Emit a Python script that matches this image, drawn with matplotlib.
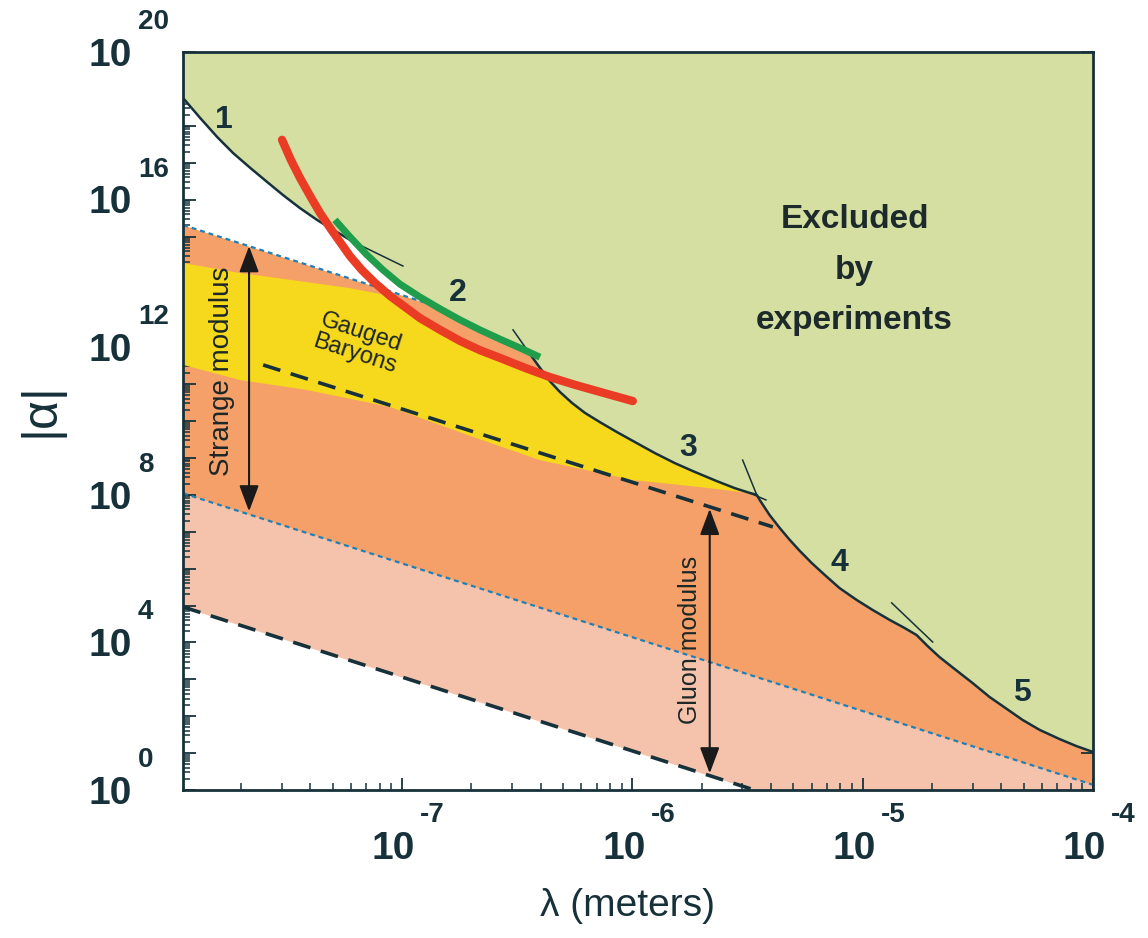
import numpy as np
import matplotlib.pyplot as plt
from matplotlib.ticker import FixedLocator, NullFormatter

plt.rcParams['font.family'] = ['Liberation Sans', 'DejaVu Sans']

# all values are log10(lambda / m) and log10(|alpha|)

# lower edge of the excluded region (curves 1 -> 5)
bound_loglam = [-7.950, -7.876, -7.803, -7.733, -7.659, -7.586, -7.516, -7.443, -7.369, -7.299, -7.226, -7.200,
                -7.152, -7.082, -7.009, -6.922, -6.835, -6.748, -6.662, -6.575, -6.488, -6.445,
                -6.401, -6.358, -6.315, -6.262, -6.206, -6.141, -6.067, -5.989, -5.902, -5.816, -5.729,
                -5.633, -5.555, -5.490, -5.460,
                -5.447, -5.404, -5.360, -5.317, -5.273, -5.221, -5.165, -5.100, -5.026, -4.957, -4.883,
                -4.818, -4.766,
                -4.718, -4.666, -4.601, -4.523, -4.449, -4.375, -4.306, -4.232, -4.145, -4.072, -4.0]
bound_logalpha = [18.75, 18.21, 17.70, 17.26, 16.86, 16.48, 16.12, 15.77, 15.45, 15.18, 14.91, 14.82,
                  14.50, 14.09, 13.71, 13.36, 13.04, 12.74, 12.47, 12.22, 11.98, 11.82,
                  11.44, 11.08, 10.79, 10.49, 10.22, 9.97, 9.70, 9.43, 9.13, 8.86, 8.62,
                  8.37, 8.18, 8.05, 8.00,
                  7.86, 7.45, 7.10, 6.78, 6.48, 6.15, 5.83, 5.47, 5.15, 4.88, 4.61,
                  4.39, 4.20,
                  3.90, 3.60, 3.28, 2.90, 2.52, 2.20, 1.90, 1.63, 1.38, 1.19, 1.03]

# short continuations of the curves past where they cross
cross_loglam = [(-7.200, -6.996), (-6.518, -6.445), (-5.521, -5.460), (-5.490, -5.42), (-4.874, -4.696)]
cross_logalpha = [(14.82, 14.20), (12.47, 11.82), (8.94, 8.00), (8.05, 7.86), (5.07, 4.01)]

red_loglam = [-7.521, -7.482, -7.443, -7.399, -7.356, -7.312, -7.269, -7.226, -7.174, -7.117, -7.052,
              -6.987, -6.922, -6.835, -6.748, -6.662, -6.575, -6.466, -6.358, -6.249, -6.141, -5.998]
red_logalpha = [17.62, 17.07, 16.59, 16.10, 15.64, 15.23, 14.85, 14.47, 14.09, 13.74, 13.39,
                13.09, 12.79, 12.47, 12.17, 11.92, 11.71, 11.44, 11.19, 10.98, 10.79, 10.54]

green_loglam = [-7.291, -7.226, -7.152, -7.082, -7.009, -6.922, -6.835, -6.748, -6.662, -6.575, -6.488, -6.401]
green_logalpha = [15.45, 14.99, 14.50, 14.09, 13.71, 13.36, 13.04, 12.74, 12.47, 12.22, 11.98, 11.73]

# gauged baryons band (top edge then bottom edge back)
yellow_loglam = [-7.950, -7.703, -7.443, -7.226, -7.052, -6.987, -6.922, -6.835, -6.748, -6.662, -6.575,
                 -6.466, -6.380, -6.358, -6.315, -6.262, -6.206, -6.141, -6.067, -5.989, -5.902, -5.816,
                 -5.729, -5.633, -5.555, -5.490,
                 -5.707, -5.998, -6.401, -6.692, -7.052, -7.412, -7.703, -7.950]
yellow_logalpha = [14.28, 14.01, 13.79, 13.60, 13.39, 13.09, 12.79, 12.47, 12.17, 11.92, 11.71,
                   11.44, 11.27, 11.08, 10.79, 10.49, 10.22, 9.97, 9.70, 9.43, 9.13, 8.86,
                   8.62, 8.37, 8.18, 8.05,
                   8.21, 8.40, 8.94, 9.57, 10.38, 10.84, 11.11, 11.52]

# straight bands (end points)
band_loglam = [-7.95, -4.0]
strange_top_logalpha = [15.31, 7.41]
strange_bot_logalpha = [8.04, 0.14]
gluon_bot_logalpha = [4.96, -2.94]
upper_blue_loglam = [-7.95, -6.55]
upper_blue_logalpha = [15.31, 12.51]
upper_dash_loglam = [-7.603, -5.39]
upper_dash_logalpha = [11.52, 7.13]

strange_arrow = (-7.664, 14.74, 7.55)
gluon_arrow = (-5.664, 7.62, 0.45)

curve_labels = ['1', '2', '3', '4', '5']
curve_label_loglam = [-7.772, -6.757, -5.759, -5.100, -4.310]
curve_label_logalpha = [18.16, 13.47, 9.27, 6.15, 2.63]

y_label_decades = [0, 4, 8, 12, 16, 20]
x_label_decades = [-7, -6, -5, -4]

INK = '#17313a'
TEXT = '#1c2727'


def p(values):
    return 10.0 ** np.asarray(values, dtype=float)


def draw_chart():
    fig = plt.figure(figsize=(11.48, 9.38), dpi=100)
    # axes box: 183..1093 px across, 52..790 px down
    ax = fig.add_axes([183 / 1148, 1 - 790 / 938, 910 / 1148, 738 / 938])
    ax.set_xscale('log')
    ax.set_yscale('log')

    # colored bands
    ax.fill_between(p(band_loglam), p(gluon_bot_logalpha), p(strange_bot_logalpha),
                    color='#f5c3ac', lw=0, zorder=1)
    ax.fill_between(p(band_loglam), p(strange_bot_logalpha), p(strange_top_logalpha),
                    color='#f4a068', lw=0, zorder=1)
    ax.fill(p(yellow_loglam), p(yellow_logalpha), color='#f6d81c', lw=0, zorder=2)

    blue = dict(color='#1f80b8', lw=1.6, ls=(0, (2.2, 1.8)), zorder=2.5)
    ax.plot(p(upper_blue_loglam), p(upper_blue_logalpha), **blue)
    ax.plot(p(band_loglam), p(strange_bot_logalpha), **blue)

    # excluded region
    ex_x = list(bound_loglam) + [-4.0, -7.95]
    ex_y = list(bound_logalpha) + [21, 21]
    ax.fill(p(ex_x), p(ex_y), color='#d4dfa1', lw=0, zorder=3)

    ax.plot(p(upper_dash_loglam), p(upper_dash_logalpha), color=INK, lw=2.6, ls=(0, (5, 3)), zorder=4)
    ax.plot(p(band_loglam), p(gluon_bot_logalpha), color=INK, lw=2.6, ls=(0, (5, 3)), zorder=4)

    ax.plot(p(bound_loglam), p(bound_logalpha), color=INK, lw=1.8, zorder=5)
    for xs, ys in zip(cross_loglam, cross_logalpha):
        ax.plot(p(xs), p(ys), color=INK, lw=1.1, zorder=5)

    ax.plot(p(red_loglam), p(red_logalpha), color='#ea3b25', lw=6, solid_capstyle='round',
            solid_joinstyle='round', zorder=6)
    ax.plot(p(green_loglam), p(green_logalpha), color='#1f9d4b', lw=5, solid_capstyle='butt',
            solid_joinstyle='round', zorder=6)

    # modulus arrows
    for lx, top, bot in (strange_arrow, gluon_arrow):
        ax.annotate('', xy=(p(lx), p(top)), xytext=(p(lx), p(bot)),
                    arrowprops=dict(arrowstyle='<|-|>,head_length=0.8,head_width=0.3', lw=1.5,
                                    color='#1a1a1a', shrinkA=0, shrinkB=0, mutation_scale=20),
                    zorder=7)

    ax.text(p(-7.781), p(11.36), 'Strange modulus', rotation=90, ha='center', va='center',
            fontsize=20, color=TEXT, zorder=8)
    ax.text(p(-5.751), p(4.07), 'Gluon modulus', rotation=90, ha='center', va='center',
            fontsize=18, color=TEXT, zorder=8)
    ax.text(p(-7.191), p(12.11), 'Gauged\nBaryons', rotation=-18, ha='center', va='center',
            fontsize=17, color=TEXT, linespacing=1.0, rotation_mode='anchor', zorder=8)
    ax.text(p(-5.035), p(14.09), 'Excluded\nby\nexperiments', ha='center', va='center',
            fontsize=24, fontweight='bold', color='#1c2a2c', linespacing=1.8, zorder=8)
    for s, lx, ly in zip(curve_labels, curve_label_loglam, curve_label_logalpha):
        ax.text(p(lx), p(ly), s, ha='center', va='center', fontsize=23, fontweight='bold',
                color=INK, zorder=8)

    ax.set_xlim(1.12e-8, 1e-4)
    ax.set_ylim(1, 1e20)

    # ticks: inward, minors only bottom/left
    ax.xaxis.set_major_locator(FixedLocator(p(x_label_decades)))
    ax.xaxis.set_minor_locator(FixedLocator([m * 10.0 ** d for d in range(-8, -4) for m in range(2, 10)]))
    ax.yaxis.set_major_locator(FixedLocator(p(range(0, 21))))
    ax.yaxis.set_minor_locator(FixedLocator([m * 10.0 ** d for d in range(0, 20) for m in range(2, 10)]))
    for axis in (ax.xaxis, ax.yaxis):
        axis.set_major_formatter(NullFormatter())
        axis.set_minor_formatter(NullFormatter())
    ax.tick_params(which='major', direction='in', length=9, width=1.3, color=INK,
                   top=True, right=True)
    ax.tick_params(which='minor', direction='in', length=5, width=1.1, color=INK,
                   top=False, right=False)
    for sp in ax.spines.values():
        sp.set_color(INK)
        sp.set_linewidth(2)
        sp.set_zorder(9)

    # "10" with raised exponent, drawn by hand
    for d in y_label_decades:
        ax.annotate('10', xy=(0, p(d)), xycoords=('axes fraction', 'data'), xytext=(-37, -10),
                    textcoords='offset points', ha='right', va='baseline', fontsize=28,
                    fontweight='bold', color=INK, annotation_clip=False)
        ax.annotate(str(d), xy=(0, p(d)), xycoords=('axes fraction', 'data'), xytext=(-32.4, 16.6),
                    textcoords='offset points', ha='left', va='baseline', fontsize=20,
                    fontweight='bold', color=INK, annotation_clip=False)
    for d in x_label_decades:
        ax.annotate('10', xy=(p(d), 0), xycoords=('data', 'axes fraction'), xytext=(9.4, -50),
                    textcoords='offset points', ha='right', va='baseline', fontsize=28,
                    fontweight='bold', color=INK, annotation_clip=False)
        ax.annotate('-' + str(-d), xy=(p(d), 0), xycoords=('data', 'axes fraction'), xytext=(13, -23),
                    textcoords='offset points', ha='left', va='baseline', fontsize=20,
                    fontweight='bold', color=INK, annotation_clip=False)

    fig.text(40 / 1148, 1 - 410 / 938, '|α|', rotation=90, ha='center', va='center',
             fontsize=36, color=INK)
    fig.text(628 / 1148, 1 - 906 / 938, 'λ (meters)', ha='center', va='center',
             fontsize=28, color=INK)

    fig.savefig('out.png', dpi=100, facecolor='white')


if __name__ == '__main__':
    draw_chart()
